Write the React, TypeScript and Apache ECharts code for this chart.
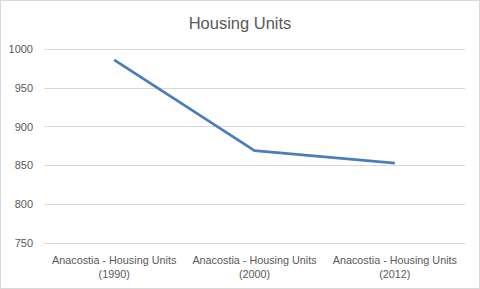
import React, { useEffect, useRef } from "react";
import * as echarts from "echarts";

const categories = [
  "Anacostia - Housing Units\n(1990)",
  "Anacostia - Housing Units\n(2000)",
  "Anacostia - Housing Units\n(2012)",
];
const values = [986, 869, 853];
const yTicks = { min: 750, max: 1000, interval: 50 };
const title = "Housing Units";
const FONT = "Liberation Sans, Arial, sans-serif";

export default function App() {
  const ref = useRef<HTMLDivElement>(null);
  useEffect(() => {
    document.body.style.margin = "0";
    const chart = echarts.init(ref.current!, null, { renderer: "svg" });
    chart.setOption({
      animation: false,
      backgroundColor: "#ffffff",
      title: {
        text: title,
        left: "center",
        top: 8,
        textStyle: {
          fontFamily: FONT,
          fontSize: 16.5,
          fontWeight: "normal",
          color: "#595959",
        },
      },
      grid: { left: 43, right: 14, top: 48, bottom: 45 },
      xAxis: {
        type: "category",
        data: categories,
        boundaryGap: true,
        axisLine: { lineStyle: { color: "#d9d9d9" } },
        axisTick: { show: false },
        axisLabel: {
          color: "#595959",
          fontSize: 10.8,
          lineHeight: 14,
          margin: 10,
          fontFamily: FONT,
          interval: 0,
        },
      },
      yAxis: {
        type: "value",
        min: yTicks.min,
        max: yTicks.max,
        interval: yTicks.interval,
        axisLine: { show: false },
        axisTick: { show: false },
        splitLine: { lineStyle: { color: "#d9d9d9" } },
        axisLabel: {
          color: "#595959",
          fontSize: 11,
          margin: 11,
          fontFamily: FONT,
          formatter: (v: number) => String(v),
        },
      },
      series: [
        {
          type: "line",
          data: values,
          symbol: "none",
          lineStyle: { color: "#4a7ebb", width: 2.75 },
        },
      ],
    });
    return () => chart.dispose();
  }, []);
  return (
    <div
      style={{
        width: 480,
        height: 289,
        boxSizing: "border-box",
        border: "1px solid #d9d9d9",
        background: "#fff",
      }}
    >
      <div ref={ref} style={{ width: 478, height: 287 }} />
    </div>
  );
}
